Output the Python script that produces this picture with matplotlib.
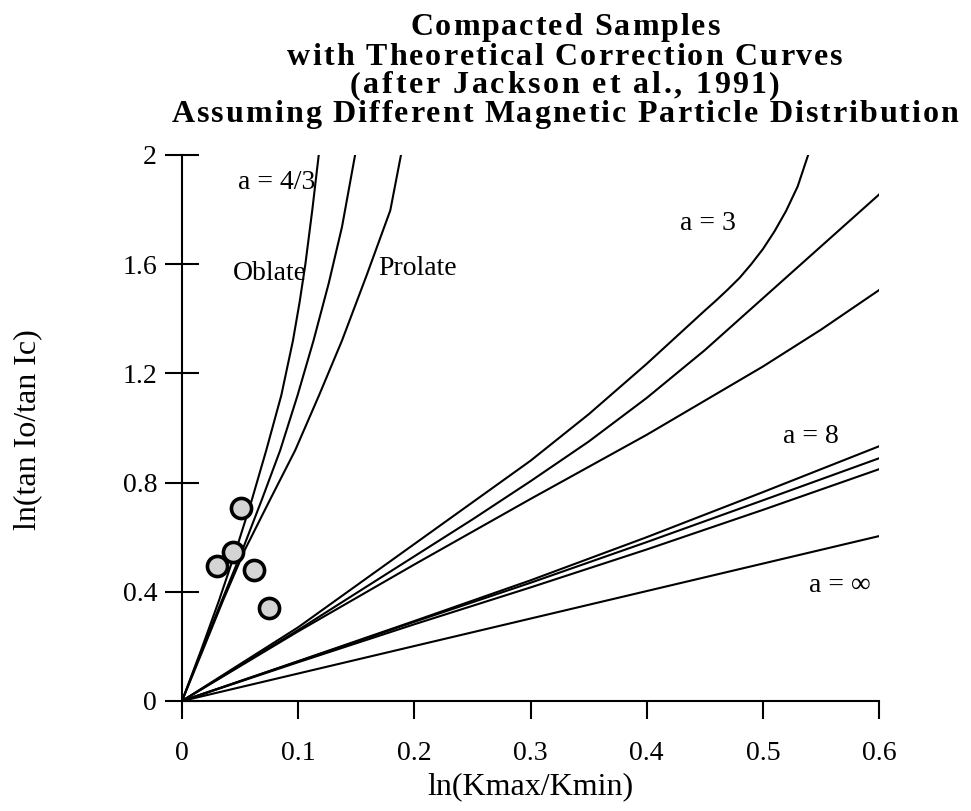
import matplotlib
matplotlib.use('Agg')
import matplotlib.pyplot as plt

plt.rcParams['font.family'] = ['Liberation Serif', 'DejaVu Serif']

# theoretical correction curves (x = ln(Kmax/Kmin), y = ln(tan Io/tan Ic))
# a = 4/3 group (steep)
oblate_x = [0, 0.0165, 0.032, 0.0465, 0.06, 0.0725, 0.0855, 0.0955, 0.1012, 0.1062, 0.1122, 0.1177]
oblate_y = [0, 0.187, 0.37, 0.553, 0.735, 0.918, 1.12, 1.32, 1.46, 1.6, 1.8, 2.0]
mid43_x = [0, 0.0172, 0.0345, 0.052, 0.0685, 0.0845, 0.0995, 0.1132, 0.1263, 0.1377, 0.149]
mid43_y = [0, 0.187, 0.37, 0.553, 0.735, 0.918, 1.12, 1.32, 1.53, 1.736, 2.0]
prolate_x = [0, 0.018, 0.0355, 0.054, 0.0755, 0.0974, 0.118, 0.1377, 0.159, 0.1793, 0.1885]
prolate_y = [0, 0.187, 0.37, 0.553, 0.735, 0.918, 1.12, 1.32, 1.56, 1.797, 2.0]

# a = 3 group
a3_top_x = [0, 0.1, 0.2, 0.3, 0.35, 0.4, 0.45, 0.46, 0.47, 0.48, 0.49, 0.5, 0.51, 0.52, 0.53, 0.539]
a3_top_y = [0, 0.27, 0.575, 0.88, 1.05, 1.235, 1.43, 1.468, 1.508, 1.55, 1.60, 1.655, 1.72,
            1.795, 1.885, 2.0]
a3_mid_x = [0, 0.1, 0.2, 0.25, 0.3, 0.35, 0.4, 0.45, 0.5, 0.55, 0.6]
a3_mid_y = [0, 0.26, 0.53, 0.665, 0.805, 0.95, 1.11, 1.285, 1.475, 1.665, 1.855]
a3_bot_x = [0, 0.1, 0.2, 0.3, 0.4, 0.5, 0.55, 0.6]
a3_bot_y = [0, 0.255, 0.5, 0.74, 0.975, 1.225, 1.36, 1.505]

# a = 8 group
a8_x = [0, 0.1, 0.2, 0.3, 0.4, 0.5, 0.6]
a8_top_y = [0, 0.146, 0.293, 0.442, 0.60, 0.765, 0.933]
a8_mid_y = [0, 0.145, 0.29, 0.433, 0.582, 0.735, 0.889]
a8_bot_y = [0, 0.142, 0.281, 0.416, 0.555, 0.70, 0.849]

# a = infinity
ainf_x = [0, 0.6]
ainf_y = [0, 0.604]

# compacted samples
sample_x = [0.0509, 0.044, 0.030, 0.062, 0.075]
sample_y = [0.706, 0.545, 0.494, 0.479, 0.340]

xticks = [0, 0.1, 0.2, 0.3, 0.4, 0.5, 0.6]
xticklabels = ['0', '0.1', '0.2', '0.3', '0.4', '0.5', '0.6']
yticks = [0, 0.4, 0.8, 1.2, 1.6, 2.0]
yticklabels = ['0', '0.4', '0.8', '1.2', '1.6', '2']

title_lines = ['Compacted Samples',
               'with Theoretical Correction Curves',
               '(after Jackson et al., 1991)',
               'Assuming Different Magnetic Particle Distribution']

W, H = 971, 811
fig = plt.figure(figsize=(W / 100, H / 100), dpi=100)
ax = fig.add_axes([182 / W, 1 - 701 / H, 697 / W, 546 / H])

curves = [(oblate_x, oblate_y), (mid43_x, mid43_y), (prolate_x, prolate_y),
          (a3_top_x, a3_top_y), (a3_mid_x, a3_mid_y), (a3_bot_x, a3_bot_y),
          (a8_x, a8_top_y), (a8_x, a8_mid_y), (a8_x, a8_bot_y),
          (ainf_x, ainf_y)]
for cx, cy in curves:
    ax.plot(cx, cy, color='black', lw=1.5, solid_joinstyle='round')

ax.scatter(sample_x, sample_y, s=210, facecolor='#d4d4d4', edgecolor='black',
           linewidth=2.6, zorder=3)

ax.set_xlim(0, 0.6)
ax.set_ylim(0, 2)
ax.spines['top'].set_visible(False)
ax.spines['right'].set_visible(False)
for sp in ['left', 'bottom']:
    ax.spines[sp].set_linewidth(1.5)
ax.set_xticks(xticks)
ax.set_xticklabels(xticklabels)
ax.set_yticks(yticks)
ax.set_yticklabels(yticklabels)
ax.tick_params(axis='x', direction='out', length=13, width=1.5, pad=16, labelsize=20)
ax.tick_params(axis='y', direction='inout', length=24, width=1.5, pad=6, labelsize=20)

lab_kw = dict(fontsize=20, color='black')
ax.text(0.0483, 1.877, 'a = 4/3', **lab_kw)
ax.text(0.044, 1.541, 'Oblate', **lab_kw)
ax.text(0.169, 1.559, 'Prolate', **lab_kw)
ax.text(0.4284, 1.724, 'a = 3', **lab_kw)
ax.text(0.517, 0.944, 'a = 8', **lab_kw)
ax.text(0.540, 0.399, 'a = \u221e', **lab_kw)

fig.text(530 / W, 1 - 794 / H, 'ln(Kmax/Kmin)', fontsize=23, ha='center', va='baseline')
fig.text(28 / W, 1 - 430 / H, 'ln(tan Io/tan Ic)', fontsize=23, rotation=90,
         ha='center', va='center')

# title is letter-spaced in the original, so place it character by character
renderer = fig.canvas.get_renderer()


def text_width(s, size):
    t = fig.text(0, 0, s, fontsize=size, fontweight='bold')
    w = t.get_window_extent(renderer).width
    t.remove()
    return w


def spaced_title(s, x_left, x_right, baseline, size=23):
    space_w = text_width('n n', size) - text_width('nn', size)
    widths = [space_w if ch == ' ' else text_width(ch, size) for ch in s]
    track = (x_right - x_left - sum(widths)) / (len(s) - 1)
    x = x_left
    for ch, w in zip(s, widths):
        if ch != ' ':
            fig.text(x / W, 1 - baseline / H, ch, fontsize=size, fontweight='bold',
                     ha='left', va='baseline')
        x += w + track


spaced_title(title_lines[0], 410, 720, 35)
spaced_title(title_lines[1], 287, 843, 65)
spaced_title(title_lines[2], 350, 780, 93)
spaced_title(title_lines[3], 172, 958, 122)

fig.savefig('out.png', dpi=100)
